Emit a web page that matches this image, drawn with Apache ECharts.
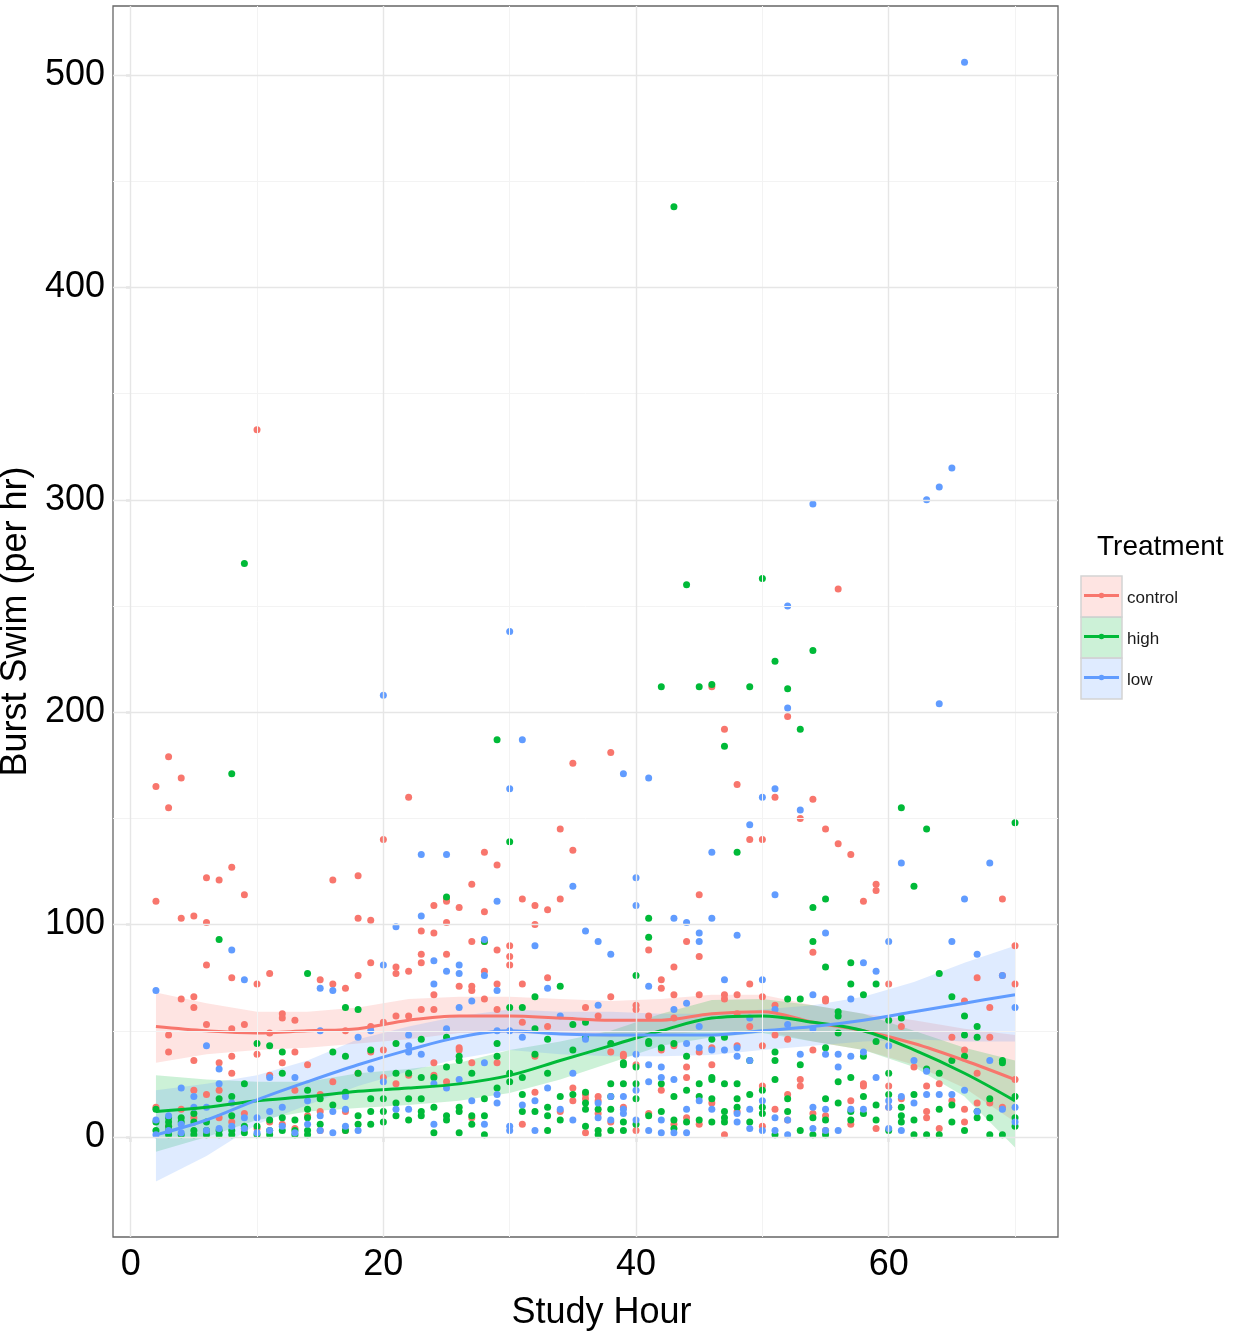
<!DOCTYPE html>
<html><head><meta charset="utf-8">
<script src="https://cdn.jsdelivr.net/npm/echarts@6/dist/echarts.min.js"></script>
<style>html,body{margin:0;padding:0;background:#fff}#c{width:1244px;height:1337px}</style>
</head><body><div id="c"></div>
<script>
const FONT = "'Liberation Sans', Arial, sans-serif";
const hours = [2,3,4,5,6,7,8,9,10,11,12,13,14,15,16,17,18,19,20,21,22,23,24,25,26,27,28,29,30,31,32,33,34,35,36,37,38,39,40,41,42,43,44,45,46,47,48,49,50,51,52,53,54,55,56,57,58,59,60,61,62,63,64,65,66,67,68,69,70];

const controlVals = [
 [165,111,14],[179,155,48,40,5],[169,103,65,13],[104,66,61,36,22,9],[122,101,81,53,20],
 [121,35,22,9],[127,75,51,38,30,7],[114,53,11,4],[333,72,39,4],[77,49,29,7],
 [58,56,35,6],[55,40,22,4],[34,10],[74,20,12,3],[121,72,26],
 [70,50,12,3],[123,103,76,30],[102,82,52,40],[140,54,41,28],[80,77,57,25],
 [160,78,57,29],[97,86,82,60],[109,96,67,60,35,29],[112,111,101,86,26],[108,71,42,41],
 [119,92,71,69,35,9],[134,106,92,78,65],[128,88,72,60,35],[90,85,81],[112,72,54,6],
 [109,100,38,21],[107,75,52],[145,112,12],[176,135,23,17],[61,20,18,2],
 [57,19,17,11],[181,66,40,7],[39,38,14],[62,60,34,3],[88,57,11],
 [74,70,41,22],[80,67,56,43,6],[92,33,28,9],[114,85,67,40,6],[212,42,34,16],
 [192,67,65,1],[166,67,58,43,12],[140,72,52],[140,66,43,24,5],[160,62,48,13],
 [198,46,20,8],[150,27,24],[159,87,41,11],[145,65,64,10,3],[258,138],
 [133,17,6],[111,25,24],[119,116,4],[72,24,14],[52,18],
 [33],[24,12,9],[25,4],[47,17],[64,41,13,7],
 [75,30,16],[61,47,16],[112,76,14],[90,72,27]
];
const highVals = [
 [13,7,3],[9,7,5,3,1],[9,7,1],[11,7,3,1],[7,3,1],
 [93,18,3,1],[171,19,10,3,1],[270,25,5,2],[44,5,1],[43,8,3,1],
 [40,30,9,3],[8,3,1],[77,22,13,9,3,1],[18,6],[40,15],
 [61,38,21,3],[60,30,10,6],[41,18,12,6],[18,12,7],[44,30,16,10],
 [30,18,8],[46,28,18,12,10],[28,14,2],[113,47,33,10,8],[38,36,14,12,2],
 [30,10,6],[92,18,10,1],[187,44,38,23],[139,61,30,26],[61,28,20,12],
 [66,51,39,12],[46,30,14,10,3],[71,19,8],[53,41,20],[54,47,21,16,13,5],
 [13,3,1],[44,25,19,13,3],[35,34,25,7,3],[76,33,25,18,6],[103,94,45,44,10],
 [212,42,25,12],[438,44,19,8,4],[260,38,22,7],[212,25,19,8],[213,46,28,27,18,7],
 [184,47,25,12,9,7],[134,25,18,14],[212,36,20,7],[263,22,14,11],[224,40,36,27,1],
 [211,65,18,12],[192,65,34,3],[229,108,92,9,1],[112,80,42,18,8,1],[59,57,49,26,16],
 [82,72,28,12,8],[67,38,19,11],[72,45,15,8],[55,30,20,3],[155,56,14,10,7],
 [118,20,8,1],[145,32,1],[77,30,13,1],[66,36,15,7],[57,48,38,3],
 [52,47,12,9],[18,9,1],[36,35,1],[148,19,9,5]
];
const lowVals = [
 [69,8,1],[10,3],[23,6,2],[19,14],[43,14,3],
 [32,25,4],[88,16,5],[74,9,4],[9,2],[28,12,3],
 [14,5],[28,2],[17,6],[70,50,10,3],[69,12,2],
 [19,13,5],[47,3],[50,32],[208,81,26],[99,13],
 [48,43,40,13],[133,104,39],[83,72,25,6],[133,78,51,23],[81,77,61,27],
 [64,17],[93,76,35,6],[111,69,50,20,16],[238,164,50,5,3],[187,47,15],
 [90,17,3],[70,23],[57,13],[118,30,8],[97,46],
 [92,62,16,9],[86,19,8],[171,19,13,11],[122,109,39,22,8],[169,71,34,26,3],
 [33,28,8,2],[103,60,27,2],[101,63,44,13,2],[96,92,52,42,17],[134,103,41,13],
 [74,41],[95,42,38,11,7],[147,56,36,13,4],[160,74,17,3],[164,114,60,9,3],
 [250,202,53,8,1],[154,39],[298,67,51,14,4],[96,39,13,3],[39,33,3],
 [65,38,13],[82,40,13],[78,28],[92,43,17,14,4],[129,19,3],
 [36,16],[300,31,20],[306,204,20],[315,92,20],[506,112,22],
 [86,12],[129,36],[76,13],[61,14,7]
];

// fitted curves and confidence ribbons
const fitHours   = [2,6,10,14,18,22,26,30,34,38,42,46,50,54,58,62,66,70];
const controlFit = [52,50,49,50,51,55,57,57,56,55,55,58,59,54,50,44,36,27];
const controlHi  = [68,63,59,59,61,65,66,66,65,64,65,67,67,62,58,55,51,48];
const controlLo  = [35,39,41,42,44,46,49,49,48,47,48,50,50,45,41,34,23,7];
const highFit    = [12,14,17,19,21.5,23,25,29,36,43,50,56,57,54,50,41,30,17];
const highHi     = [29,27,26,26,30,32,35,41,45,50,58,64.5,65,62,58,50,42,36];
const highLo     = [-7,0,8,12,13.6,15,17,20.7,27,35,43,47,49,45,41,33,19,-5];
const lowFit     = [1,8,17.5,26,34,41,47,50,48.5,48,48,48,50,52,55,59,63,67];
const lowHi      = [22,25,29,36,46,52,57,60,59,59,58,58,60,62,66,73,82,90];
const lowLo      = [-21,-9,6,15,24,31,37,41,39,38,38,38.6,41,43,45,46,45,45];

const xTicks = [0,20,40,60];
const yTicks = [0,100,200,300,400,500];
const minorX = [10,30,50,70];
const minorY = [50,150,250,350,450];

const treatments = ['control','high','low'];
const colors = ['#F8766D','#00BA38','#619CFF'];
const fills = ['rgba(248,118,109,0.2)','rgba(0,186,56,0.2)','rgba(97,156,255,0.2)'];

function pairs(vals){
  const out=[];
  hours.forEach((h,i)=>{(vals[i]||[]).forEach(v=>out.push([h,v]));});
  return out;
}
function band(lo,hi,fill){
  return {
    type:'custom', silent:true, clip:true,
    data:[[fitHours[0],lo[0]]],
    renderItem:(params,api)=>{
      const pts=[];
      fitHours.forEach((h,i)=>pts.push(api.coord([h,hi[i]])));
      for(let i=fitHours.length-1;i>=0;i--) pts.push(api.coord([fitHours[i],lo[i]]));
      return {type:'polygon', shape:{points:pts}, style:{fill:fill}};
    }
  };
}
function fitLine(fit,color){
  return {type:'line', silent:true, smooth:0.35, showSymbol:false,
    data:fitHours.map((h,i)=>[h,fit[i]]),
    lineStyle:{color:color,width:3}, itemStyle:{color:color}};
}

const allVals=[controlVals,highVals,lowVals];
const fits=[[controlFit,controlLo,controlHi],[highFit,highLo,highHi],[lowFit,lowLo,lowHi]];

const series=[];
series.push({type:'scatter', data:[], silent:true,
  markLine:{silent:true, symbol:'none', label:{show:false}, animation:false,
    lineStyle:{color:'#f3f3f3', width:1, type:'solid'},
    data:[...minorX.map(v=>({xAxis:v})), ...minorY.map(v=>({yAxis:v}))]}});
series.push({type:'scatter', data:[], silent:true,
  markLine:{silent:true, symbol:'none', label:{show:false}, animation:false,
    lineStyle:{color:'#e6e6e6', width:1.4, type:'solid'},
    data:[...xTicks.map(v=>({xAxis:v})), ...yTicks.map(v=>({yAxis:v}))]}});
allVals.forEach((vals,k)=>{
  series.push({type:'scatter', name:treatments[k], data:pairs(vals), symbol:'circle', symbolSize:7,
    itemStyle:{color:colors[k], opacity:1}, silent:true});
});
fits.forEach((f,k)=>{
  series.push(band(f[1],f[2],fills[k]));
  series.push(fitLine(f[0],colors[k]));
});

const legendItems=[];
legendItems.push({type:'text', x:1097, y:547, style:{text:'Treatment', fontSize:28, fontFamily:FONT, fill:'#000', verticalAlign:'middle'}});
treatments.forEach((t,k)=>{
  const top=576+k*41;
  legendItems.push({type:'rect', shape:{x:1081,y:top,width:41,height:41}, style:{fill:fills[k], stroke:'#d4d4d4', lineWidth:1.5}});
  legendItems.push({type:'line', shape:{x1:1084,y1:top+19.5,x2:1119,y2:top+19.5}, style:{stroke:colors[k], lineWidth:3}});
  legendItems.push({type:'circle', shape:{cx:1101.5,cy:top+19.5,r:2.8}, style:{fill:colors[k]}});
  legendItems.push({type:'text', x:1127, y:top+22, style:{text:t, fontSize:17, fontFamily:FONT, fill:'#1a1a1a', verticalAlign:'middle'}});
});

const chart=echarts.init(document.getElementById('c'),null,{renderer:'canvas'});
chart.setOption({
  animation:false,
  backgroundColor:'#fff',
  grid:{left:113, top:6, width:945, height:1231, show:true, borderColor:'#666666', borderWidth:1.3, backgroundColor:'#fff', containLabel:false, outerBoundsMode:'none'},
  xAxis:{type:'value', min:-1.4, max:73.4,
    axisLine:{show:false},
    axisTick:{show:true, length:5, lineStyle:{color:'#333', width:1.2}, customValues:xTicks},
    axisLabel:{customValues:xTicks, fontSize:36, color:'#000', fontFamily:FONT, margin:10},
    splitLine:{show:false},
    name:'Study Hour', nameLocation:'middle', nameGap:58,
    nameTextStyle:{fontSize:36, color:'#000', fontFamily:FONT, padding:[0,0,0,32]}},
  yAxis:{type:'value', min:-47.1, max:532.5,
    axisLine:{show:false},
    axisTick:{show:true, length:5, lineStyle:{color:'#333', width:1.2}, customValues:yTicks},
    axisLabel:{customValues:yTicks, fontSize:36, color:'#000', fontFamily:FONT, margin:8},
    splitLine:{show:false},
    name:'Burst Swim (per hr)', nameLocation:'middle', nameGap:72, nameRotate:90,
    nameTextStyle:{fontSize:36, color:'#000', fontFamily:FONT}},
  graphic:legendItems,
  series:series
});
</script></body></html>
